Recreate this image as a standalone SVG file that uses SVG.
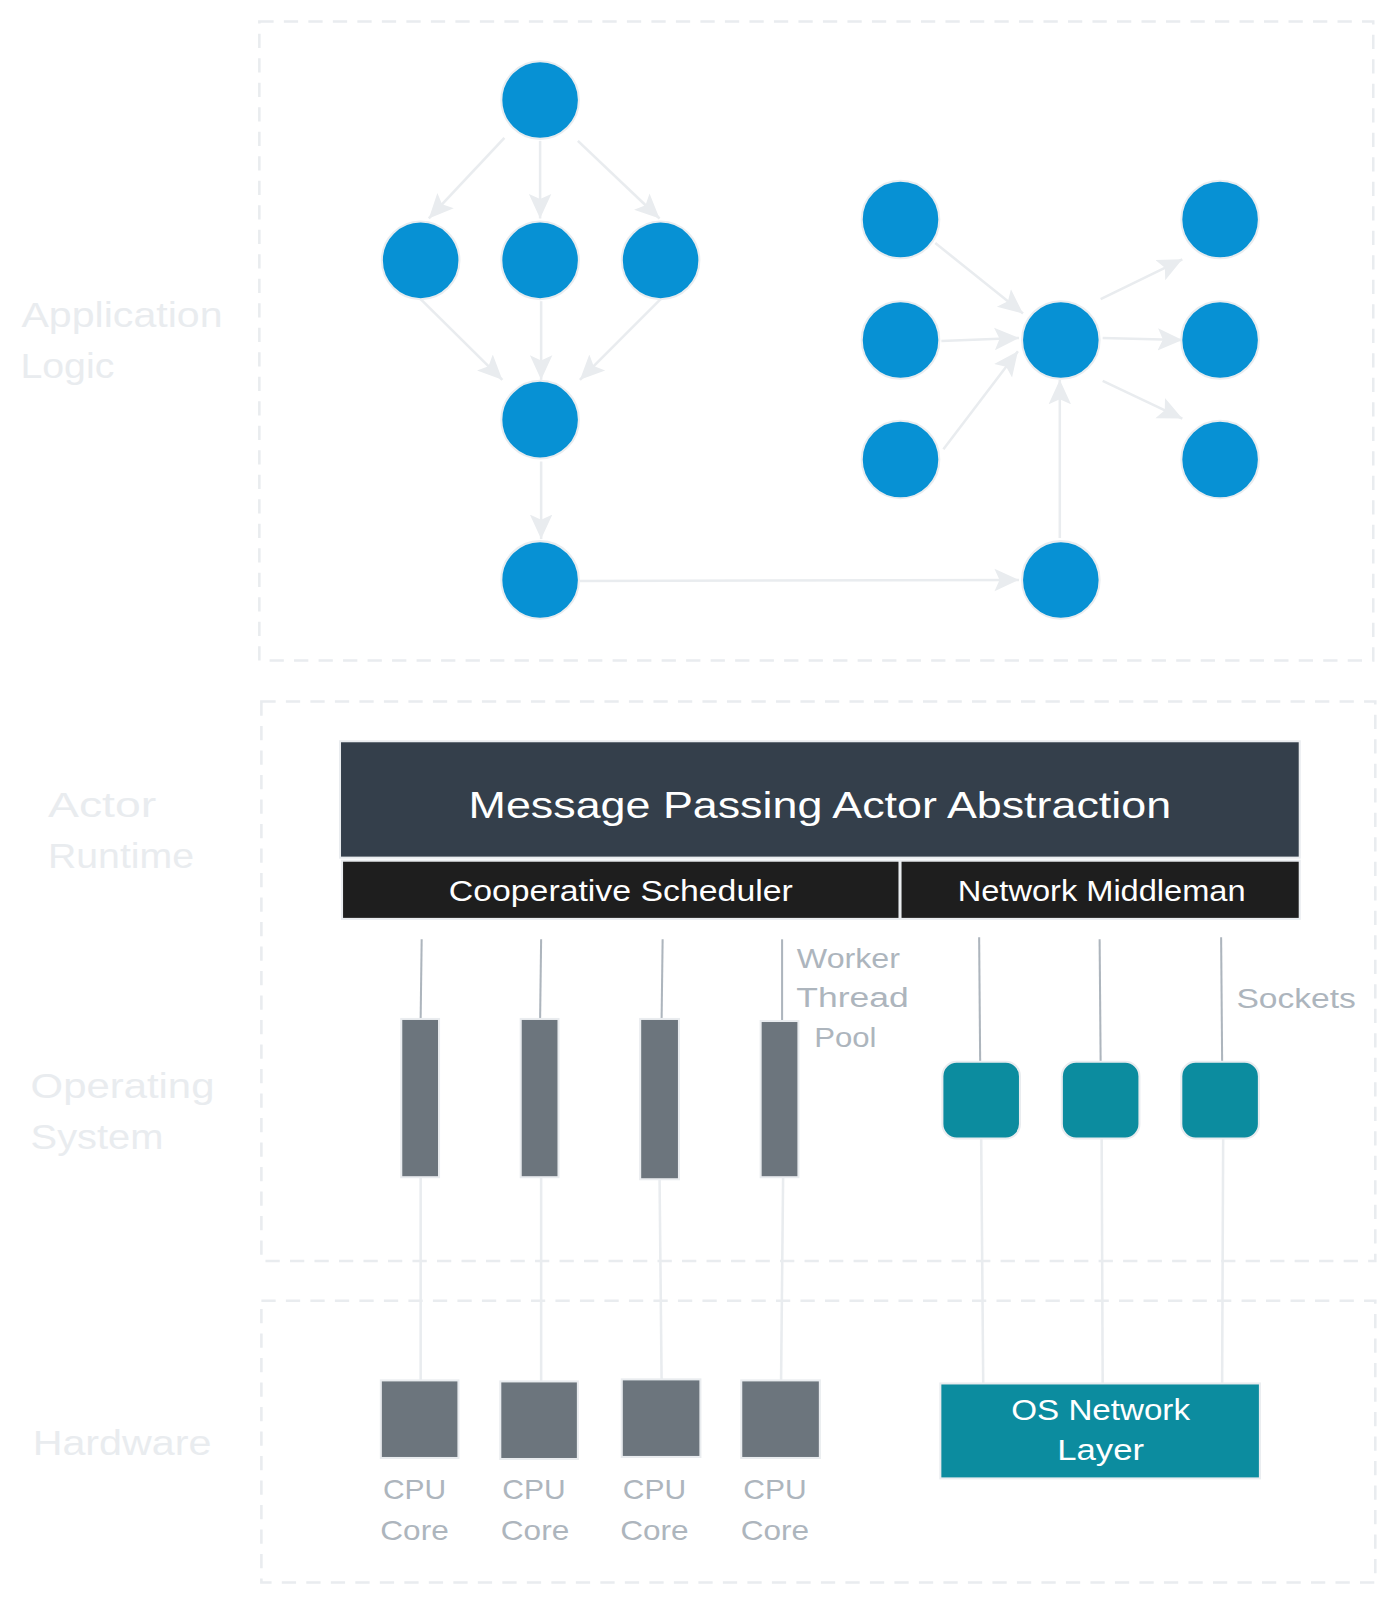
<svg xmlns="http://www.w3.org/2000/svg" width="1393" height="1600" viewBox="0 0 1393 1600">
<style>
.region{fill:none;stroke:#e9ecef;stroke-width:2.5;stroke-dasharray:14 10}
.lbl{font-family:"Liberation Sans",sans-serif;font-size:34px;fill:#e9ecef}
.node{fill:#0791d4;stroke:#e9ecef;stroke-width:2}
.edge{fill:none;stroke:#e9ecef;stroke-width:2.5}
.wire{fill:none;stroke:#adb5bd;stroke-width:2}
.wt{font-family:"Liberation Sans",sans-serif;font-size:27px;fill:#adb5bd}
.white{font-family:"Liberation Sans",sans-serif;fill:#ffffff;text-anchor:middle}
.gray{fill:#6c757d;stroke:#e9ecef;stroke-width:2}
.teal{fill:#0c8c9f;stroke:#e9ecef;stroke-width:2}
</style>
<defs>
<marker id="ah" markerUnits="userSpaceOnUse" markerWidth="26" markerHeight="24" refX="24" refY="12" orient="auto">
<path d="M0,1 L24,12 L0,23 L5,12 Z" fill="#e9ecef"/>
</marker>
</defs>
<rect width="1393" height="1600" fill="#ffffff"/>
<g id="diagram" transform="scale(1.021)">
<g id="regions">
<rect class="region" x="254" y="21" width="1091" height="626"/>
<rect class="region" x="256" y="687" width="1091" height="548"/>
<rect class="region" x="256" y="1274" width="1091" height="276"/>
<text class="lbl" x="21" y="320" textLength="197" lengthAdjust="spacingAndGlyphs">Application</text>
<text class="lbl" x="20" y="370" textLength="92" lengthAdjust="spacingAndGlyphs">Logic</text>
<text class="lbl" x="47" y="800" textLength="106" lengthAdjust="spacingAndGlyphs">Actor</text>
<text class="lbl" x="47" y="850" textLength="143" lengthAdjust="spacingAndGlyphs">Runtime</text>
<text class="lbl" x="30" y="1075" textLength="180" lengthAdjust="spacingAndGlyphs">Operating</text>
<text class="lbl" x="30" y="1125" textLength="130" lengthAdjust="spacingAndGlyphs">System</text>
<text class="lbl" x="32" y="1425" textLength="175" lengthAdjust="spacingAndGlyphs">Hardware</text>
</g>

<g id="connectors">
<line class="edge" x1="494" y1="135" x2="420" y2="214" marker-end="url(#ah)"/>
<line class="edge" x1="529" y1="138" x2="529" y2="214" marker-end="url(#ah)"/>
<line class="edge" x1="566" y1="138" x2="646" y2="214" marker-end="url(#ah)"/>
<line class="edge" x1="412" y1="293" x2="492" y2="372" marker-end="url(#ah)"/>
<line class="edge" x1="530" y1="295" x2="530" y2="372" marker-end="url(#ah)"/>
<line class="edge" x1="647" y1="293" x2="568" y2="372" marker-end="url(#ah)"/>
<line class="edge" x1="530" y1="452" x2="530" y2="528" marker-end="url(#ah)"/>
<line class="edge" x1="568" y1="569" x2="998" y2="568" marker-end="url(#ah)"/>
<line class="edge" x1="916" y1="238" x2="1002" y2="307" marker-end="url(#ah)"/>
<line class="edge" x1="922" y1="334" x2="998" y2="331" marker-end="url(#ah)"/>
<line class="edge" x1="924" y1="440" x2="997" y2="344" marker-end="url(#ah)"/>
<line class="edge" x1="1038" y1="527" x2="1038" y2="372" marker-end="url(#ah)"/>
<line class="edge" x1="1078" y1="293" x2="1158" y2="254" marker-end="url(#ah)"/>
<line class="edge" x1="1080" y1="331" x2="1158" y2="333" marker-end="url(#ah)"/>
<line class="edge" x1="1080" y1="373" x2="1158" y2="410" marker-end="url(#ah)"/>

<line class="wire" x1="413" y1="920" x2="412" y2="998"/>
<line class="wire" x1="530" y1="920" x2="529" y2="998"/>
<line class="wire" x1="649" y1="920" x2="648" y2="998"/>
<line class="wire" x1="766" y1="920" x2="766" y2="1000"/>
<line class="wire" x1="959" y1="918" x2="960" y2="1040"/>
<line class="wire" x1="1077" y1="920" x2="1078" y2="1040"/>
<line class="wire" x1="1196" y1="918" x2="1197" y2="1040"/>

<line class="edge" x1="412" y1="1153" x2="412" y2="1352"/>
<line class="edge" x1="530" y1="1153" x2="530" y2="1354"/>
<line class="edge" x1="646" y1="1155" x2="648" y2="1352"/>
<line class="edge" x1="767" y1="1153" x2="765" y2="1352"/>
<line class="edge" x1="961" y1="1115" x2="963" y2="1355"/>
<line class="edge" x1="1079" y1="1115" x2="1080" y2="1355"/>
<line class="edge" x1="1198" y1="1115" x2="1197" y2="1355"/>
</g>

<g id="n-a"><circle class="node" cx="529" cy="98" r="38"/></g>
<g id="n-b1"><circle class="node" cx="412" cy="255" r="38"/></g>
<g id="n-b2"><circle class="node" cx="529" cy="255" r="38"/></g>
<g id="n-b3"><circle class="node" cx="647" cy="255" r="38"/></g>
<g id="n-c"><circle class="node" cx="529" cy="411" r="38"/></g>
<g id="n-d"><circle class="node" cx="529" cy="568" r="38"/></g>
<g id="n-e1"><circle class="node" cx="882" cy="215" r="38"/></g>
<g id="n-e2"><circle class="node" cx="882" cy="333" r="38"/></g>
<g id="n-e3"><circle class="node" cx="882" cy="450" r="38"/></g>
<g id="n-f"><circle class="node" cx="1039" cy="333" r="38"/></g>
<g id="n-g1"><circle class="node" cx="1195" cy="215" r="38"/></g>
<g id="n-g2"><circle class="node" cx="1195" cy="333" r="38"/></g>
<g id="n-g3"><circle class="node" cx="1195" cy="450" r="38"/></g>
<g id="n-h"><circle class="node" cx="1039" cy="568" r="38"/></g>

<g id="actor-abstraction">
<rect x="333" y="726" width="940" height="114" fill="#343f4b" stroke="#e9ecef" stroke-width="2"/>
<text class="white" x="803" y="801" font-size="36" textLength="688" lengthAdjust="spacingAndGlyphs">Message Passing Actor Abstraction</text>
</g>
<g id="scheduler">
<rect x="335" y="843" width="546" height="57" fill="#1e1e1e" stroke="#e9ecef" stroke-width="2"/>
<text class="white" x="608" y="882" font-size="28" textLength="337" lengthAdjust="spacingAndGlyphs">Cooperative Scheduler</text>
</g>
<g id="middleman">
<rect x="882" y="843" width="391" height="57" fill="#1e1e1e" stroke="#e9ecef" stroke-width="2"/>
<text class="white" x="1079" y="882" font-size="28" textLength="282" lengthAdjust="spacingAndGlyphs">Network Middleman</text>
</g>

<g id="threads">
<rect class="gray" x="393" y="998" width="37" height="155"/>
<rect class="gray" x="510" y="998" width="37" height="155"/>
<rect class="gray" x="627" y="998" width="38" height="157"/>
<rect class="gray" x="745" y="1000" width="37" height="153"/>
<text class="wt" x="831" y="948" text-anchor="middle" textLength="101" lengthAdjust="spacingAndGlyphs">Worker</text>
<text class="wt" x="835" y="986" text-anchor="middle" textLength="110" lengthAdjust="spacingAndGlyphs">Thread</text>
<text class="wt" x="828" y="1025" text-anchor="middle" textLength="61" lengthAdjust="spacingAndGlyphs">Pool</text>
</g>

<g id="sockets">
<rect class="teal" x="923" y="1040" width="76" height="75" rx="14"/>
<rect class="teal" x="1040" y="1040" width="76" height="75" rx="14"/>
<rect class="teal" x="1157" y="1040" width="76" height="75" rx="14"/>
<text class="wt" x="1211" y="987" textLength="117" lengthAdjust="spacingAndGlyphs">Sockets</text>
</g>

<g id="cpu1"><rect class="gray" x="373" y="1352" width="76" height="76"/>
<text class="wt" x="406" y="1468" text-anchor="middle" textLength="62" lengthAdjust="spacingAndGlyphs">CPU</text>
<text class="wt" x="406" y="1508" text-anchor="middle" textLength="67" lengthAdjust="spacingAndGlyphs">Core</text></g>
<g id="cpu2"><rect class="gray" x="490" y="1353" width="76" height="76"/>
<text class="wt" x="523" y="1468" text-anchor="middle" textLength="62" lengthAdjust="spacingAndGlyphs">CPU</text>
<text class="wt" x="524" y="1508" text-anchor="middle" textLength="67" lengthAdjust="spacingAndGlyphs">Core</text></g>
<g id="cpu3"><rect class="gray" x="609" y="1351" width="77" height="76"/>
<text class="wt" x="641" y="1468" text-anchor="middle" textLength="62" lengthAdjust="spacingAndGlyphs">CPU</text>
<text class="wt" x="641" y="1508" text-anchor="middle" textLength="67" lengthAdjust="spacingAndGlyphs">Core</text></g>
<g id="cpu4"><rect class="gray" x="726" y="1352" width="77" height="76"/>
<text class="wt" x="759" y="1468" text-anchor="middle" textLength="62" lengthAdjust="spacingAndGlyphs">CPU</text>
<text class="wt" x="759" y="1508" text-anchor="middle" textLength="67" lengthAdjust="spacingAndGlyphs">Core</text></g>

<g id="os-network">
<rect class="teal" x="921" y="1355" width="313" height="93"/>
<text class="white" x="1078" y="1391" font-size="28" textLength="175" lengthAdjust="spacingAndGlyphs">OS Network</text>
<text class="white" x="1078" y="1430" font-size="28" textLength="85" lengthAdjust="spacingAndGlyphs">Layer</text>
</g>
</g>
</svg>
